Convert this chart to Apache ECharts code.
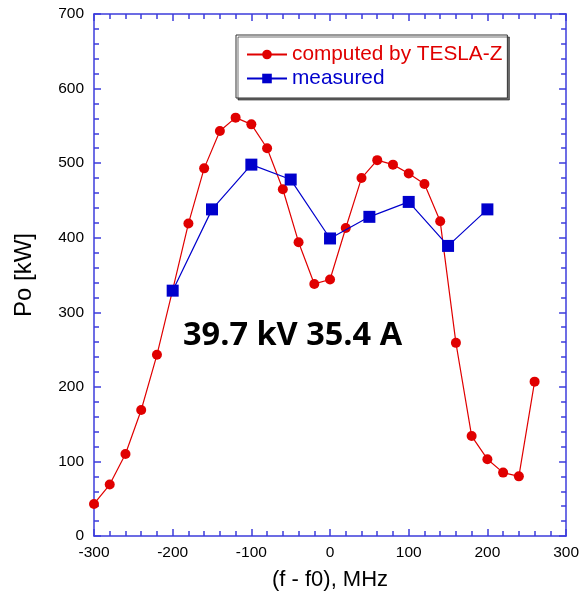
<!DOCTYPE html>
<html>
<head>
<meta charset="utf-8">
<script src="https://cdn.jsdelivr.net/npm/echarts@6/dist/echarts.min.js"></script>
<style>
  html, body { margin: 0; padding: 0; background: #fff; }
  #chart { width: 582px; height: 597px; }
</style>
</head>
<body>
<div id="chart"></div>
<script>
// Frequency offset (MHz) and output power (kW)
const computedFreq = [-300, -280, -260, -240, -220, -200, -180, -160, -140, -120, -100, -80, -60, -40, -20, 0, 20, 40, 60, 80, 100, 120, 140, 160, 180, 200, 220, 240, 260];
const computedPower = [43, 69, 110, 169, 243, 330, 419, 493, 543, 561, 552, 520, 465, 394, 338, 344, 413, 480, 504, 498, 486, 472, 422, 259, 134, 103, 85, 80, 207];

const measuredFreq = [-200, -150, -100, -50, 0, 50, 100, 150, 200];
const measuredPower = [329, 438, 498, 478, 399, 428, 448, 389, 438];

const computedName = 'computed by TESLA-Z';
const measuredName = 'measured';
const annotation = '39.7 kV 35.4 A';

const RED = '#e00000';
const BLUE = '#0000cc';
const AXIS = '#3c3cdc';
const SANS = '"Liberation Sans", Arial, sans-serif';

function pairs(xs, ys) { return xs.map((x, i) => [x, ys[i]]); }

function frameAxis(extra) {
  return Object.assign({
    type: 'value',
    axisLine: { show: true, onZero: false, lineStyle: { color: AXIS, width: 1.5 } },
    axisTick: { show: true, inside: true, length: 7, lineStyle: { color: AXIS, width: 1.5 } },
    minorTick: { show: true, splitNumber: 5, length: 5, lineStyle: { color: AXIS, width: 1.5 } },
    axisLabel: { show: false },
    splitLine: { show: false }
  }, extra);
}

const tickLabel = { show: true, color: '#000', fontSize: 15.5, fontFamily: SANS };

const option = {
  animation: false,
  backgroundColor: '#fff',
  grid: { left: 94, right: 11, top: 14, bottom: 61, containLabel: false },
  legend: {
    orient: 'vertical',
    left: 236, top: 35,
    padding: [9, 5, 9, 10],
    itemGap: 3,
    itemWidth: 40, itemHeight: 12,
    backgroundColor: '#fff',
    borderColor: '#333', borderWidth: 1,
    shadowColor: 'rgba(0,0,0,0.55)', shadowBlur: 0, shadowOffsetX: 2, shadowOffsetY: 2,
    textStyle: { fontFamily: SANS, fontSize: 20.8 },
    data: [
      { name: computedName, textStyle: { color: RED } },
      { name: measuredName, textStyle: { color: BLUE } }
    ]
  },
  xAxis: [
    frameAxis({
      min: -300, max: 300, interval: 100, position: 'bottom',
      name: '(f - f0), MHz', nameLocation: 'middle', nameGap: 33,
      nameTextStyle: { fontFamily: SANS, fontSize: 22, color: '#000' },
      axisLabel: Object.assign({ margin: 9 }, tickLabel)
    }),
    frameAxis({ min: -300, max: 300, interval: 100, position: 'top' })
  ],
  yAxis: [
    frameAxis({
      min: 0, max: 700, interval: 100, position: 'left',
      name: 'Po [kW]', nameLocation: 'middle', nameGap: 58, nameRotate: 90,
      nameTextStyle: { fontFamily: SANS, fontSize: 24, color: '#000' },
      axisLabel: Object.assign({ margin: 10 }, tickLabel)
    }),
    frameAxis({ min: 0, max: 700, interval: 100, position: 'right' })
  ],
  graphic: [
    {
      type: 'text', x: 183, y: 336, z: 100,
      style: {
        text: annotation,
        font: 'bold 32.5px "Open Sans", "Liberation Sans", sans-serif',
        fill: '#000',
        verticalAlign: 'middle'
      }
    }
  ],
  series: [
    {
      name: computedName, type: 'line',
      data: pairs(computedFreq, computedPower),
      symbol: 'circle', symbolSize: 10,
      lineStyle: { color: RED, width: 1.2 },
      itemStyle: { color: RED },
      z: 3
    },
    {
      name: measuredName, type: 'line',
      data: pairs(measuredFreq, measuredPower),
      symbol: 'rect', symbolSize: 12,
      lineStyle: { color: BLUE, width: 1.2 },
      itemStyle: { color: BLUE },
      z: 4
    }
  ]
};

const chart = echarts.init(document.getElementById('chart'), null, { renderer: 'canvas' });
chart.setOption(option);
</script>
</body>
</html>
